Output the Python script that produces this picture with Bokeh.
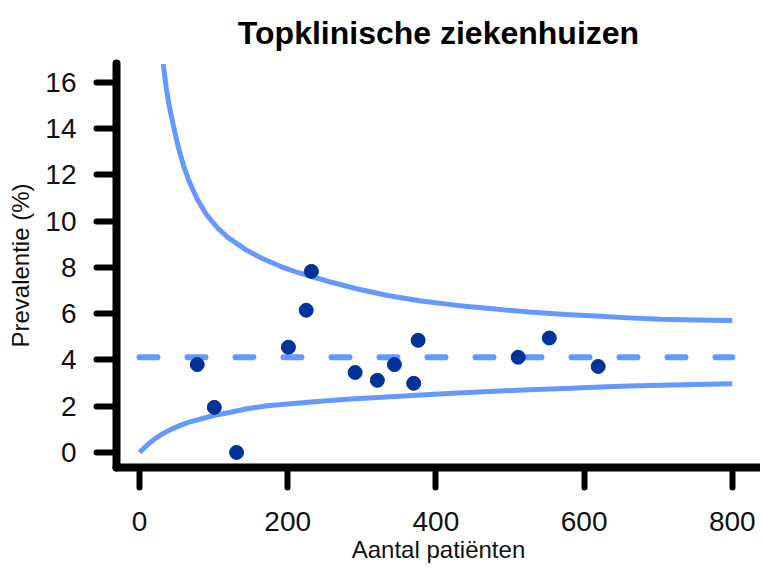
from bokeh.plotting import figure
from bokeh.models import Range1d, FixedTicker
from bokeh.embed import file_html
from bokeh.resources import INLINE

# --- data ---
title_text = "Topklinische ziekenhuizen"
x_label = "Aantal patiënten"
y_label = "Prevalentie (%)"

x_ticks = [0, 200, 400, 600, 800]
y_ticks = [0, 2, 4, 6, 8, 10, 12, 14, 16]

hosp_n = [78, 101, 131, 201, 225, 232, 291, 321, 344, 370, 376, 511, 553, 619]
hosp_prev = [3.8, 1.95, 0.0, 4.55, 6.15, 7.83, 3.46, 3.12, 3.8, 2.99, 4.85, 4.12, 4.95, 3.72]

mean_prev = 4.12
mean_x = [0, 800]

upper_n = [32, 36, 40, 46, 52, 60, 68, 78, 90, 105, 120, 145, 165, 190, 210, 231, 258, 290,
           333, 380, 429, 480, 526, 575, 622, 660, 703, 750, 800]
upper_prev = [16.8, 15.8, 15.0, 14.1, 13.25, 12.35, 11.65, 10.95, 10.3, 9.72, 9.28, 8.74, 8.4,
              8.05, 7.82, 7.62, 7.37, 7.1, 6.8, 6.55, 6.36, 6.2, 6.07, 5.97, 5.89, 5.82, 5.76,
              5.73, 5.71]

lower_n = [0, 8, 15, 24, 33, 44, 55, 66, 78, 100, 123, 145, 172, 200, 236, 280, 333, 380, 429,
           480, 526, 575, 622, 660, 703, 750, 800]
lower_prev = [0.0, 0.25, 0.45, 0.66, 0.84, 1.02, 1.17, 1.3, 1.41, 1.6, 1.74, 1.89, 2.02, 2.1,
              2.19, 2.3, 2.4, 2.49, 2.57, 2.65, 2.71, 2.77, 2.83, 2.87, 2.91, 2.94, 2.97]

LINE = "#6699FF"
DOT = "#003399"
FONT = "Liberation Sans"

p = figure(width=760, height=567, output_backend="svg", toolbar_location=None,
           x_range=Range1d(-31, 838), y_range=Range1d(-0.65, 16.82),
           min_border_left=116, min_border_right=0, min_border_top=63, min_border_bottom=100)

p.title.text = title_text
p.title.align = "center"
p.title.text_font = FONT
p.title.text_font_size = "32px"
p.title.text_font_style = "bold"
p.title.text_color = "#000000"
p.title.text_line_height = 0.7
p.title.standoff = 25

p.xgrid.visible = False
p.ygrid.visible = False
p.outline_line_color = None
p.background_fill_color = "white"
p.border_fill_color = "white"

for ax in (p.xaxis[0], p.yaxis[0]):
    ax.axis_line_width = 8
    ax.axis_line_color = "black"
    ax.axis_line_cap = "round"
    ax.major_tick_line_width = 6
    ax.major_tick_line_color = "black"
    ax.major_tick_line_cap = "round"
    ax.major_tick_in = 0
    ax.major_tick_out = 20
    ax.minor_tick_line_color = None
    ax.major_label_text_font = FONT
    ax.major_label_text_font_size = "28px"
    ax.major_label_text_color = "#111111"
    ax.axis_label_text_font = FONT
    ax.axis_label_text_font_size = "24px"
    ax.axis_label_text_font_style = "normal"
    ax.axis_label_text_color = "#111111"

p.xaxis.ticker = FixedTicker(ticks=x_ticks)
p.yaxis.ticker = FixedTicker(ticks=y_ticks)
p.xaxis.axis_label = x_label
p.yaxis.axis_label = y_label
p.xaxis.major_label_standoff = 24
p.yaxis.major_label_standoff = 20
p.xaxis.axis_label_standoff = 2
p.yaxis.axis_label_standoff = 8

p.line(upper_n, upper_prev, line_color=LINE, line_width=5, line_join="round")
p.line(lower_n, lower_prev, line_color=LINE, line_width=5, line_join="round")
p.line(mean_x, [mean_prev, mean_prev], line_color=LINE, line_width=6,
       line_dash="18 30", line_cap="round")
p.scatter(hosp_n, hosp_prev, size=14, fill_color=DOT, line_color=DOT)

open("out.html", "w").write(file_html(p, INLINE))
